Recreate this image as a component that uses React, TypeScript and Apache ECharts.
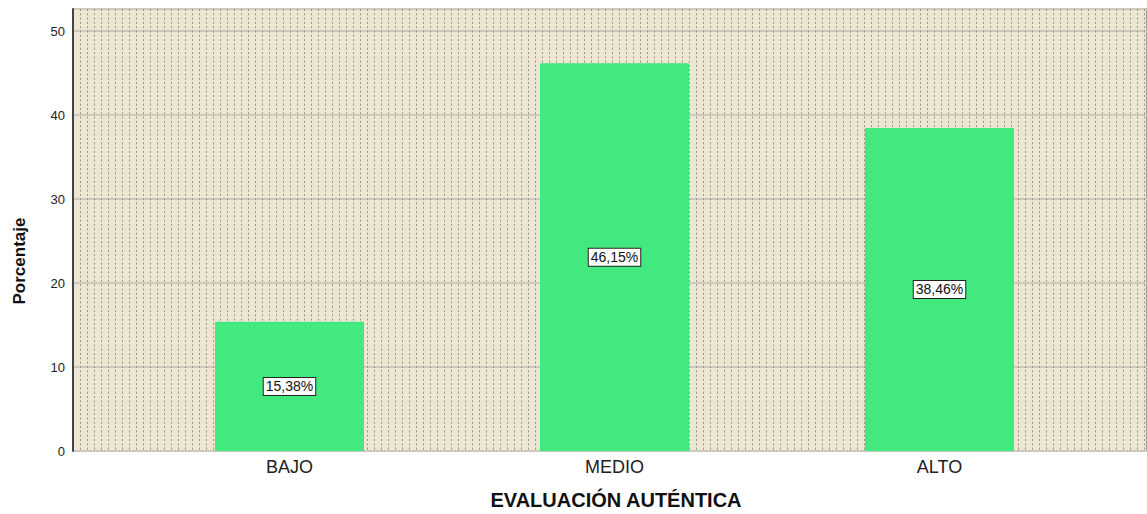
import React, { useEffect, useRef } from "react";
import * as echarts from "echarts";

const categories = ["BAJO", "MEDIO", "ALTO"];
const percentages = [15.38, 46.15, 38.46];
const yTicks = [0, 10, 20, 30, 40, 50];
const xTitle = "EVALUACIÓN AUTÉNTICA";
const yTitle = "Porcentaje";

export default function App() {
  const ref = useRef<HTMLDivElement>(null);
  useEffect(() => {
    if (!ref.current) return;
    const chart = echarts.init(ref.current, null, { renderer: "svg" });
    const yMax = 52.62;
    const font = "'Liberation Sans', Arial, sans-serif";
    chart.setOption({
      animation: false,
      backgroundColor: "#ffffff",
      textStyle: { fontFamily: font },
      grid: [
        {
          left: 73,
          right: 0,
          top: 9,
          bottom: 63,
          show: true,
          backgroundColor: "#ede6d3",
          borderColor: "#555555",
          borderWidth: 1,
        },
        { left: 127, width: 975, top: 9, bottom: 63 },
      ],
      xAxis: [
        {
          gridIndex: 0,
          type: "value",
          min: 0,
          max: 1074,
          interval: 7,
          axisLine: { show: false },
          axisTick: { show: false },
          axisLabel: { show: false },
          splitLine: {
            show: true,
            lineStyle: { color: "#9a9485", width: 1, type: [2, 2.3] },
          },
        },
        {
          gridIndex: 1,
          type: "category",
          data: categories,
          axisLine: { show: false },
          axisTick: { show: false },
          axisLabel: {
            color: "#222222",
            fontSize: 18,
            margin: 7,
            fontFamily: font,
          },
        },
      ],
      yAxis: [
        {
          gridIndex: 0,
          type: "value",
          min: 0,
          max: yMax,
          interval: 10,
          axisLine: { show: true, lineStyle: { color: "#444444", width: 2 } },
          axisTick: { show: false },
          axisLabel: {
            color: "#222222",
            fontSize: 13,
            margin: 8,
            fontFamily: font,
            formatter: (v: number) => (yTicks.includes(Math.round(v * 100) / 100) ? String(v) : ""),
          },
          splitLine: { show: true, lineStyle: { color: "#cdc9bf", width: 2 } },
        },
        {
          gridIndex: 1,
          type: "value",
          min: 0,
          max: yMax,
          show: false,
          splitLine: { show: false },
        },
      ],
      graphic: [
        {
          type: "text",
          x: 19,
          y: 261,
          rotation: Math.PI / 2,
          style: {
            text: yTitle,
            fontSize: 17,
            fontWeight: "bold",
            fontFamily: font,
            fill: "#111111",
            align: "center",
            verticalAlign: "middle",
          },
        },
        {
          type: "text",
          x: 616,
          y: 500,
          style: {
            text: xTitle,
            fontSize: 20,
            fontWeight: "bold",
            fontFamily: font,
            fill: "#111111",
            align: "center",
            verticalAlign: "middle",
          },
        },
      ],
      series: [
        {
          type: "bar",
          xAxisIndex: 1,
          yAxisIndex: 1,
          data: percentages,
          barWidth: 149,
          itemStyle: { color: "#41e97f" },
          label: {
            show: true,
            position: "inside",
            formatter: (p: any) => p.value.toFixed(2).replace(".", ",") + "%",
            color: "#111111",
            fontSize: 14,
            fontFamily: font,
            backgroundColor: "#ffffff",
            borderColor: "#222222",
            borderWidth: 1,
            padding: [2, 2, 1, 2],
          },
        },
      ],
    });
    return () => chart.dispose();
  }, []);
  return <div ref={ref} style={{ width: 1147, height: 514, position: "fixed", left: 0, top: 0 }} />;
}
